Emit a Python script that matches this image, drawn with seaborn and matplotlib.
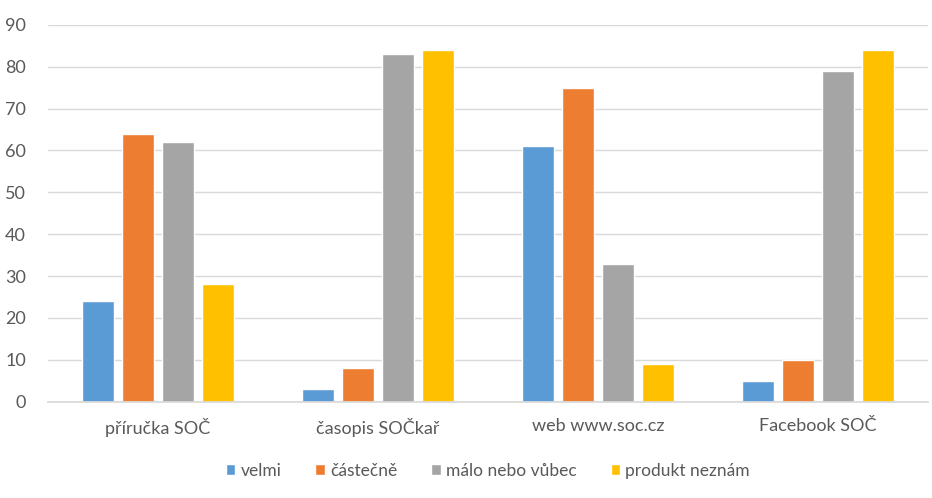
import matplotlib
matplotlib.use("Agg")
import matplotlib.pyplot as plt
import seaborn as sns
import pandas as pd

categories = ["příručka SOČ", "časopis SOČkař", "web www.soc.cz", "Facebook SOČ"]
series_names = ["velmi", "částečně", "málo nebo vůbec", "produkt neznám"]
velmi = [24, 3, 61, 5]
castecne = [64, 8, 75, 10]
malo = [62, 83, 33, 79]
neznam = [28, 84, 9, 84]
colors = ["#5B9BD5", "#ED7D31", "#A5A5A5", "#FFC000"]

rows = []
for name, vals in zip(series_names, [velmi, castecne, malo, neznam]):
    for c, v in zip(categories, vals):
        rows.append({"kategorie": c, "série": name, "hodnota": v})
df = pd.DataFrame(rows)

sns.set_theme(style="white")
plt.rcParams["font.family"] = ["Lato", "DejaVu Sans"]
text_color = "#595959"

fig = plt.figure(figsize=(9.32, 4.98), dpi=100)
ax = fig.add_axes([0.0515, 0.1934, 0.944, 0.7566])
sns.barplot(data=df, x="kategorie", y="hodnota", hue="série",
            order=categories, hue_order=series_names,
            palette=colors, width=0.727, gap=0.2, saturation=1,
            ax=ax, legend=True)

ax.set_ylim(0, 90)
ax.set_yticks(range(0, 91, 10))
ax.set_xlim(-0.5, 3.5)
ax.grid(axis="y", color="#D9D9D9", linewidth=1)
ax.set_axisbelow(True)
for s in ["top", "right", "left"]:
    ax.spines[s].set_visible(False)
ax.spines["bottom"].set_color("#D9D9D9")
ax.set_xlabel("")
ax.set_ylabel("")
ax.tick_params(axis="both", length=0, labelsize=13, colors=text_color)
ax.tick_params(axis="x", pad=12)
ax.tick_params(axis="y", pad=16)

leg = ax.legend(loc="center", bbox_to_anchor=(0.5, -0.183), ncol=4, frameon=False,
                fontsize=12.5, handlelength=0.55, handleheight=0.55,
                handletextpad=0.3, columnspacing=1.95)
for t in leg.get_texts():
    t.set_color(text_color)

fig.savefig("out.png", dpi=100, facecolor="white")
